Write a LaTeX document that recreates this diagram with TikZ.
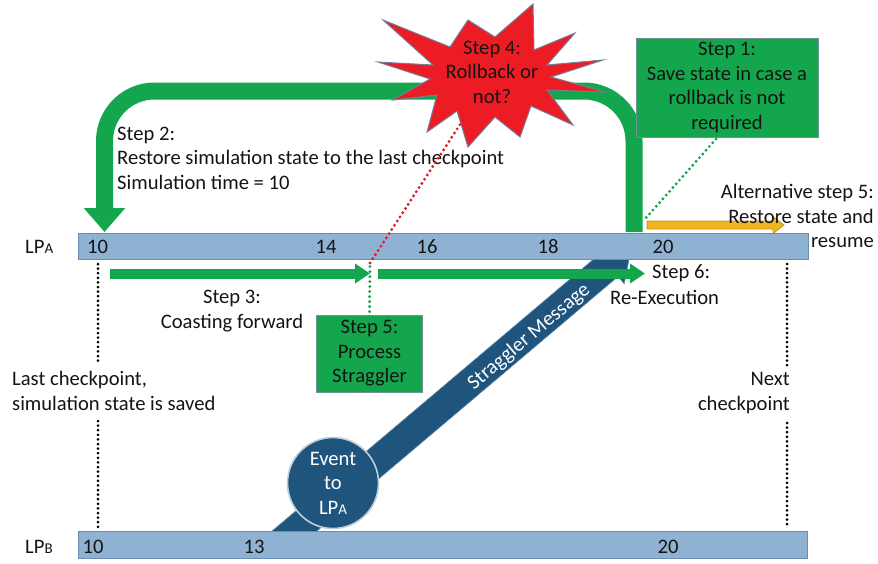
\documentclass[tikz,border=0pt]{standalone}
\usepackage{fontspec}
\setmainfont{Carlito}
\usetikzlibrary{arrows.meta,calc}
\definecolor{grn}{RGB}{20,166,76}
\definecolor{grnedge}{RGB}{115,145,150}
\definecolor{barfill}{RGB}{143,178,211}
\definecolor{baredge}{RGB}{105,140,178}
\definecolor{redstar}{RGB}{237,28,36}
\definecolor{reddot}{RGB}{215,30,45}
\definecolor{staredge}{RGB}{115,125,150}
\definecolor{navy}{RGB}{31,84,125}
\definecolor{navyedge}{RGB}{190,205,220}
\definecolor{gold}{RGB}{240,180,30}
\definecolor{goldedge}{RGB}{195,145,45}
\definecolor{txt}{RGB}{20,20,20}
\newcommand\lpx[1]{LP{\fontsize{15}{15}\selectfont #1}}
\begin{document}
\begin{tikzpicture}[x=1pt,y=-1pt,
  lbl/.style={font=\fontsize{20.6}{24.5}\selectfont, text=txt, inner sep=0pt},
  barbox/.style={draw=baredge, fill=barfill, line width=1pt, inner sep=0pt, anchor=north west},
  greenbox/.style={lbl, draw=grnedge, fill=grn, line width=0.8pt, align=center},
  blackdots/.style={draw=black, line width=3pt, line cap=round, dash pattern=on 0pt off 4.6pt},
  greendots/.style={draw=grn, line width=3.2pt, line cap=round, dash pattern=on 0pt off 5pt},
  reddots/.style={draw=reddot, line width=3.2pt, line cap=round, dash pattern=on 0pt off 5pt},
  bigarrow/.style={draw=grn, line width=17pt, rounded corners=50pt, -{Triangle[length=24pt,width=40pt]}},
  coastarrow/.style={draw=grn, line width=10pt, -{Triangle[length=15pt,width=19pt]}},
]
\useasboundingbox (0,0) rectangle (878,563);

% straggler message arrow (behind everything)
\fill[navy, draw=navy!70!white, line width=0.6pt]
  (287.35,556.08) -- (618.05,276.48) -- (624.18,283.74) -- (631.6,246)
  -- (593.22,247.06) -- (599.35,254.32) -- (268.65,533.92) -- cycle;
\node[lbl, text=white, rotate=40.2] (smsg) at (529,337) {Straggler Message};

% event circle
\node[lbl, circle, fill=navy, draw=navyedge, line width=1.6pt, minimum size=91pt,
      text=white, align=center] (ev) at (333,483) {Event\\to\\\lpx{A}};

% timeline bars
\node[barbox, minimum width=730pt, minimum height=26pt] (lpa) at (78,233) {};
\node[barbox, minimum width=729pt, minimum height=27pt] (lpb) at (78,531) {};
\node[lbl, anchor=west] (lpalab) at (25,247) {\lpx{A}};
\node[lbl, anchor=west] (lpblab) at (25,547) {\lpx{B}};

\node[lbl] (a10) at (97.5,247) {10};
\node[lbl] (a14) at (326,247) {14};
\node[lbl] (a16) at (427,247) {16};
\node[lbl] (a18) at (548,247) {18};
\node[lbl] (a20) at (663,247) {20};
\node[lbl] (b10) at (93,547) {10};
\node[lbl] (b13) at (254,547) {13};
\node[lbl] (b20) at (668,547) {20};

% checkpoint texts and dotted lines
\node[lbl, anchor=west, align=left] (lastcp) at (12,391) {Last checkpoint,\\simulation state is saved};
\node[lbl, anchor=east, align=right] (nextcp) at (790,393) {Next\\checkpoint};
\coordinate (lc1) at (98,264);
\coordinate (lc2) at (98,365);
\coordinate (lc3) at (98,421);
\coordinate (lc4) at (98,528);
\coordinate (nc1) at (787,264);
\coordinate (nc2) at (787,367);
\coordinate (nc3) at (787,423);
\coordinate (nc4) at (787,528);
\draw[blackdots] (lc1) -- (lc2);
\draw[blackdots] (lc3) -- (lc4);
\draw[blackdots] (nc1) -- (nc2);
\draw[blackdots] (nc3) -- (nc4);

% big rollback arrow
\coordinate (gstart) at (634,232);
\coordinate (gtop) at (0,91);
\coordinate (gtip) at (104.5,232);
\draw[bigarrow] (gstart) -- (gstart |- gtop) -- (gtip |- gtop) -- (gtip);

% star
\fill[redstar, draw=staredge, line width=1pt]
  (383,20) -- (450,47) -- (468,20) -- (495,37) -- (533,4) -- (534,50)
  -- (575,33) -- (547,65) -- (603,60) -- (551,77) -- (605,92) -- (547,90)
  -- (573,125) -- (531,106) -- (520,137) -- (495,117) -- (468,147) -- (457,111)
  -- (427,132) -- (437,95) -- (393,100) -- (430,79) -- (378,62) -- (433,65) -- cycle;
\node[lbl, align=center] (s4) at (492,72) {Step 4:\\Rollback or\\not?};

% step 1 box
\node[greenbox, minimum width=182pt, minimum height=99pt] (s1) at (727,87.5)
  {Step 1:\\Save state in case a\\rollback is not\\required};
\coordinate (s1foot) at (716,139);
\coordinate (altstart) at (645,219);
\draw[greendots] (s1foot) -- (altstart);

% alternative step 5 arrow
\fill[gold, draw=goldedge, line width=0.8pt]
  (647,221) -- (773,221) -- (773,216.5) -- (784,225) -- (773,233.5) -- (773,229) -- (647,229) -- cycle;
\node[lbl, anchor=east, align=right] (alt) at (874,216)
  {Alternative step 5:\\Restore state and\\resume};

% step 2 text
\node[lbl, anchor=west, align=left] (s2) at (117,158)
  {Step 2:\\Restore simulation state to the last checkpoint\\Simulation time = 10};

% coasting forward and re-execution arrows
\coordinate (c1a) at (110,273.5);
\coordinate (c1b) at (370,273.5);
\coordinate (c2a) at (378,273.5);
\coordinate (c2b) at (645,273.5);
\draw[coastarrow] (c1a) -- (c1b);
\draw[coastarrow] (c2a) -- (c2b);
\node[lbl, align=center] (s3) at (232,311) {Step 3:\\Coasting forward};
\node[lbl, anchor=west] (s6a) at (652,273) {Step 6:};
\node[lbl, anchor=west] (s6b) at (610,297.5) {Re-Execution};

% step 5 box and dotted links
\node[greenbox, minimum width=106pt, minimum height=77pt] (s5) at (369.5,353.5)
  {Step 5:\\Process\\Straggler};
\coordinate (jn) at (370,263);
\coordinate (starfoot) at (463,120);
\draw[greendots] ([yshift=-2pt]s5.north) -- (jn);
\draw[reddots] (jn) -- (starfoot);
\end{tikzpicture}
\end{document}
